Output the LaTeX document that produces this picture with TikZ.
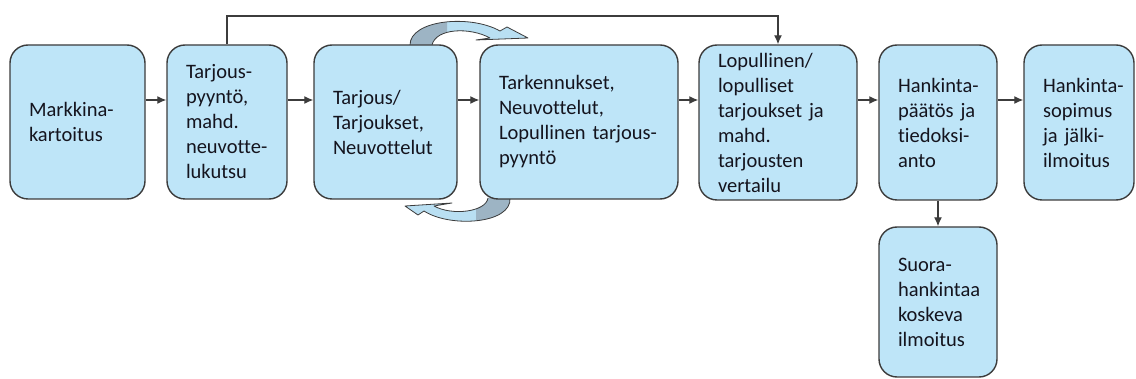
\documentclass[tikz,border=0pt]{standalone}
\usepackage{fontspec}
\setmainfont{Carlito}[Ligatures=NoCommon]
\usetikzlibrary{arrows.meta}
\definecolor{boxfill}{RGB}{190,229,248}
\definecolor{boxline}{RGB}{60,60,60}
\definecolor{txt}{RGB}{20,20,30}
\definecolor{curvedark}{RGB}{157,180,196}
\definecolor{curvelight}{RGB}{185,223,242}
\newcommand{\myboxfont}{\fontsize{20.5}{25}\selectfont\exhyphenpenalty=10000 \hyphenpenalty=10000 }
\tikzset{
  box/.style={draw=boxline, line width=1.4pt, fill=boxfill, rounded corners=18pt,
    inner xsep=19pt, inner ysep=0pt, align=left, text=txt,
    font=\myboxfont, minimum height=154pt},
  arr/.style={draw=boxline, line width=1.3pt, -{Latex[length=9pt,width=8pt]}},
  curved/.style={draw=boxline, line width=0.8pt, line join=round}
}
\begin{document}
\begin{tikzpicture}[x=1pt,y=-1pt]
\useasboundingbox[fill=white] (0,0) rectangle (1136,379);
% curved block arrows (behind boxes)
\begin{scope}
  \path[fill=curvelight] (410,45) .. controls (410,20) and (470,14) .. (500,31) -- (507,27) -- (528,38) -- (476,40) -- (490,38) .. controls (470,27) and (436,28) .. (432,45) -- cycle;
  \begin{scope}
    \clip (380,0) rectangle (447,60);
    \path[fill=curvedark] (410,45) .. controls (410,20) and (470,14) .. (500,31) -- (507,27) -- (528,38) -- (476,40) -- (490,38) .. controls (470,27) and (436,28) .. (432,45) -- cycle;
  \end{scope}
  \path[curved] (410,45) .. controls (410,20) and (470,14) .. (500,31) -- (507,27) -- (528,38) -- (476,40) -- (490,38) .. controls (470,27) and (436,28) .. (432,45);
\end{scope}
\begin{scope}
  \path[fill=curvelight] (510,198) .. controls (512,224) and (450,228) .. (424,211) -- (418,215) -- (405,206) -- (452,203) -- (434,206) .. controls (452,216) and (486,212) .. (488,198) -- cycle;
  \begin{scope}
    \clip (476,190) rectangle (530,240);
    \path[fill=curvedark] (510,198) .. controls (512,224) and (450,228) .. (424,211) -- (418,215) -- (405,206) -- (452,203) -- (434,206) .. controls (452,216) and (486,212) .. (488,198) -- cycle;
  \end{scope}
  \path[curved] (510,198) .. controls (512,224) and (450,228) .. (424,211) -- (418,215) -- (405,206) -- (452,203) -- (434,206) .. controls (452,216) and (486,212) .. (488,198);
\end{scope}
% boxes
\node[box, minimum width=135pt, text width=97pt] (b1) at (77.5,122) {Markkina-\\kartoitus};
\node[box, minimum width=120pt, text width=82pt] (b2) at (227,122) {Tarjous-\\pyyntö,\\mahd.\\neuvotte-\\lukutsu};
\node[box, minimum width=143pt, text width=105pt] (b3) at (385.5,122) {Tarjous/\\Tarjoukset,\\Neuvottelut};
\node[box, minimum width=198pt, text width=160pt] (b4) at (579,122) {Tarkennukset,\\Neuvottelut,\\Lopullinen~tarjous-\\pyyntö};
\node[box, minimum width=158pt, text width=120pt, minimum height=155pt] (b5) at (778,122.5) {Lopullinen/\\lopulliset\\tarjoukset~ja\\mahd.\\tarjousten\\vertailu};
\node[box, minimum width=118pt, text width=80pt, minimum height=155pt] (b6) at (938,122.5) {Hankinta-\\päätös~ja\\tiedoksi-\\anto};
\node[box, minimum width=110pt, text width=72pt, minimum height=155pt] (b7) at (1079,122.5) {Hankinta-\\sopimus\\ja~jälki-\\ilmoitus};
\node[box, minimum width=118pt, text width=80pt, minimum height=150pt] (b8) at (938,302) {Suora-\\hankintaa\\koskeva\\ilmoitus};
% connectors
\coordinate (row) at (0,100);
\coordinate (top) at (0,16);
\draw[arr] (b1.east |- row) -- (b2.west |- row);
\draw[arr] (b2.east |- row) -- (b3.west |- row);
\draw[arr] (b3.east |- row) -- (b4.west |- row);
\draw[arr] (b4.east |- row) -- (b5.west |- row);
\draw[arr] (b5.east |- row) -- (b6.west |- row);
\draw[arr] (b6.east |- row) -- (b7.west |- row);
\draw[arr] (b6.south) -- (b8.north);
\draw[arr] (b2.north) -- (b2.north |- top) -- (b5.north |- top) -- (b5.north);
\end{tikzpicture}
\end{document}
